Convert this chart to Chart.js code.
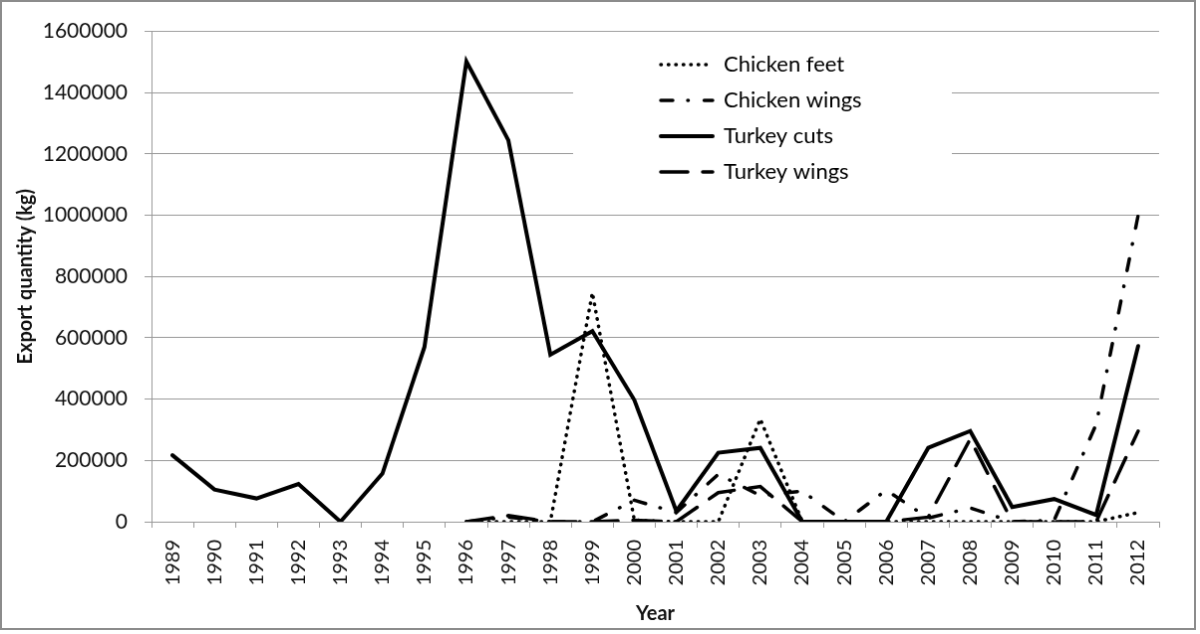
<!DOCTYPE html>
<html>
<head>
<meta charset="utf-8">
<script src="https://cdn.jsdelivr.net/npm/chart.js@4.4.0/dist/chart.umd.min.js"></script>
<style>
    body { margin: 0; background: #fff; }
    #canvas { display: block; border: 2px solid #8c8c8c; background: #fff; }
</style>
</head>
<body>
<canvas id="canvas" width="1196" height="630"></canvas>
<script>
const years = ['1989', '1990', '1991', '1992', '1993', '1994', '1995', '1996', '1997', '1998', '1999', '2000',
    '2001', '2002', '2003', '2004', '2005', '2006', '2007', '2008', '2009', '2010', '2011', '2012'];

const chickenFeet = [null, null, null, null, null, null, null,
    0, 0, 0, 747000, 5000, 0, 0, 335000, 0, 0, 0, 0, 0, 0, 0, 0, 30000];
const chickenWings = [null, null, null, null, null, null, null,
    0, 15000, 0, 0, 70000, 30000, 155000, 85000, 100000, 0, 103000, 12000, 45000, 0, 5000, 318000, 1000000];
const turkeyCuts = [217000, 105000, 76000, 123000, 0, 157000, 570000, 1502000, 1245000, 545000, 622000, 397000,
    35000, 225000, 241000, 0, 0, 0, 241000, 296000, 48000, 74000, 22000, 573000];
const turkeyWings = [null, null, null, null, null, null, null,
    0, 20000, 0, 0, 5000, 0, 95000, 115000, 0, 0, 0, 15000, 270000, 0, 0, 0, 296000];

const yTickValues = [0, 200000, 400000, 600000, 800000, 1000000, 1200000, 1400000, 1600000];
const yTickLabels = ['0', '200000', '400000', '600000', '800000', '1000000', '1200000', '1400000', '1600000'];

const fontName = 'Lato';
const gridColor = '#9a9a9a';

// legend sits inside the plot, on a white patch that hides the gridlines
const legendSpot = {
    id: 'legendSpot',
    afterLayout(chart) {
        chart.legend.left = 647;
        chart.legend.top = 38;
    },
    beforeDatasetsDraw(chart) {
        const ctx = chart.ctx;
        ctx.save();
        ctx.fillStyle = '#fff';
        ctx.fillRect(573, 38, 380, 155);
        ctx.restore();
        chart.legend.draw();
    },
};

function makeSet(label, data, dash, width) {
    return {
        label: label,
        data: data,
        borderColor: '#000',
        backgroundColor: '#000',
        borderWidth: width,
        borderDash: dash,
        borderCapStyle: 'round',
        borderJoinStyle: 'miter',
        pointRadius: 0,
        tension: 0,
        fill: false,
    };
}

// point-style legend items lose the dash, so copy it back from the datasets
function legendItems(chart) {
    const items = Chart.defaults.plugins.legend.labels.generateLabels(chart);
    items.forEach((item) => {
        const ds = chart.data.datasets[item.datasetIndex];
        item.lineDash = ds.borderDash;
        item.lineWidth = ds.borderWidth;
        item.lineCap = ds.borderCapStyle;
        item.strokeStyle = ds.borderColor;
        item.pointStyle = 'line';
    });
    return items;
}

function drawChart() {
    new Chart('canvas', {
        type: 'line',
        data: {
            labels: years,
            datasets: [
                makeSet('Chicken feet', chickenFeet, [0.5, 7], 3.5),
                makeSet('Chicken wings', chickenWings, [12, 15, 0.5, 16], 3.5),
                makeSet('Turkey cuts', turkeyCuts, [], 4),
                makeSet('Turkey wings', turkeyWings, [27, 15], 3.5),
            ],
        },
        options: {
            responsive: false,
            animation: false,
            layout: { padding: { left: 12, top: 26, right: 35, bottom: 2 } },
            plugins: {
                tooltip: { enabled: false },
                legend: {
                    position: 'chartArea',
                    align: 'start',
                    labels: {
                        usePointStyle: true,
                        pointStyle: 'line',
                        pointStyleWidth: 52,
                        padding: 14,
                        color: '#000',
                        font: { family: fontName, size: 22 },
                        generateLabels: legendItems,
                    },
                },
            },
            scales: {
                x: {
                    offset: true,
                    grid: { display: true, drawOnChartArea: false, offset: true, tickLength: 6, color: gridColor },
                    border: { color: gridColor },
                    ticks: {
                        minRotation: 90,
                        maxRotation: 90,
                        autoSkip: false,
                        padding: 12,
                        color: '#111',
                        font: { family: fontName, size: 20 },
                    },
                    title: {
                        display: true,
                        text: 'Year',
                        color: '#111',
                        padding: 0,
                        font: { family: fontName, size: 20, weight: 'bold' },
                    },
                    afterFit: (scale) => {
                        scale.height = 105;
                    },
                },
                y: {
                    min: 0,
                    max: 1600000,
                    afterBuildTicks: (scale) => {
                        scale.ticks = yTickValues.map((v) => ({ value: v }));
                    },
                    grid: { color: gridColor, tickLength: 7 },
                    border: { color: gridColor },
                    ticks: {
                        padding: 17,
                        color: '#111',
                        font: { family: fontName, size: 21 },
                        callback: (value, index) => yTickLabels[index],
                    },
                    title: {
                        display: true,
                        text: 'Export quantity (kg)',
                        color: '#111',
                        padding: 0,
                        font: { family: fontName, size: 20, weight: 'bold' },
                    },
                    afterFit: (scale) => {
                        scale.width = 138;
                    },
                },
            },
        },
        plugins: [legendSpot],
    });
}

window.addEventListener('load', () => {
    drawChart();
});
</script>
</body>
</html>
